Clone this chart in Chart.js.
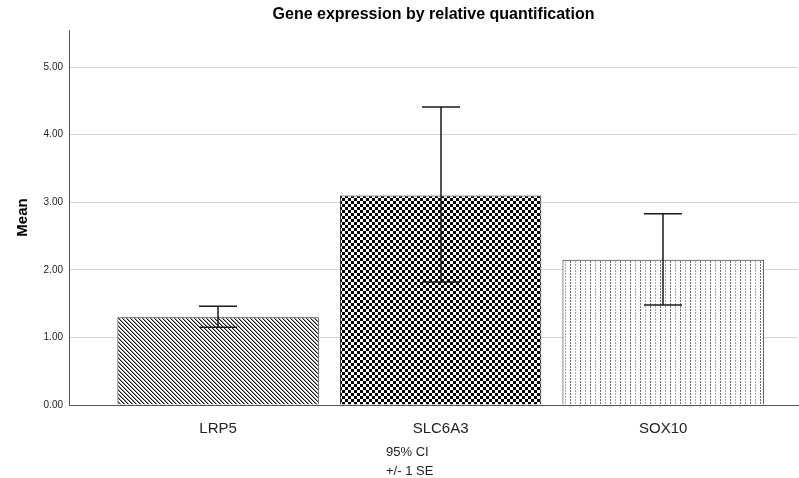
<!DOCTYPE html>
<html>
<head>
<meta charset="utf-8">
<script src="https://cdn.jsdelivr.net/npm/chart.js@4"></script>
<style>
  html, body { margin: 0; padding: 0; background: #fff; }
  #wrap { width: 799px; height: 478px; }
</style>
</head>
<body>
<div id="wrap"><canvas id="chart"></canvas></div>
<script>
const genes = ['LRP5', 'SLC6A3', 'SOX10']
const means = [1.30, 3.10, 2.15]
const upper = [1.46, 4.41, 2.83]
const lower = [1.15, 1.82, 1.48]
const footnotes = ['95% CI', '+/- 1 SE']

const FONT = '"Liberation Sans", Arial, sans-serif'
const canvas = document.getElementById('chart')

// PATTERNS
const makePattern = (w, h, draw) => {
  const c = document.createElement('canvas')
  c.width = w
  c.height = h
  const ctx = c.getContext('2d')
  ctx.fillStyle = '#fff'
  ctx.fillRect(0, 0, w, h)
  draw(ctx)
  return canvas.getContext('2d').createPattern(c, 'repeat')
}

const hatch = makePattern(4, 4, (ctx) => {
  for (let i = 0; i < 4; i++) {
    ctx.fillStyle = '#111'
    ctx.fillRect(i, i, 1, 1)
    ctx.fillStyle = '#9a9a9a'
    ctx.fillRect((i + 1) % 4, i, 1, 1)
  }
})

const checker = makePattern(6, 6, (ctx) => {
  ctx.fillStyle = '#000'
  ctx.fillRect(0, 0, 3, 3)
  ctx.fillRect(3, 3, 3, 3)
})

const dots = makePattern(10, 3, (ctx) => {
  ctx.fillStyle = '#6e6e6e'
  ctx.fillRect(0, 0, 1, 2)
  ctx.fillStyle = '#a8a8a8'
  ctx.fillRect(5, 0, 1, 2)
})

// ERROR BARS
const errorBars = {
  id: 'errorBars',
  afterDatasetsDraw(chart) {
    const { ctx, scales: { x, y } } = chart
    ctx.save()
    ctx.strokeStyle = '#1a1a1a'
    ctx.lineWidth = 1.5
    genes.forEach((g, i) => {
      const px = Math.round(x.getPixelForValue(i))
      const top = y.getPixelForValue(upper[i])
      const bot = y.getPixelForValue(lower[i])
      ctx.beginPath()
      ctx.moveTo(px, top)
      ctx.lineTo(px, bot)
      ctx.moveTo(px - 19, top)
      ctx.lineTo(px + 19, top)
      ctx.moveTo(px - 19, bot)
      ctx.lineTo(px + 19, bot)
      ctx.stroke()
    })
    ctx.restore()
  }
}

// FOOTNOTES
const footnotePlugin = {
  id: 'footnotes',
  afterDraw(chart) {
    const { ctx } = chart
    ctx.save()
    ctx.fillStyle = '#222'
    ctx.font = '13px ' + FONT
    ctx.textAlign = 'left'
    ctx.textBaseline = 'middle'
    footnotes.forEach((t, i) => ctx.fillText(t, 386, 452 + i * 19))
    ctx.restore()
  }
}

new Chart(canvas, {
  type: 'bar',
  data: {
    datasets: [
      {
        data: genes.map((g, i) => ({ x: i, y: means[i] })),
        backgroundColor: [hatch, checker, dots],
        borderColor: '#222',
        borderWidth: 1,
        barPercentage: 0.905,
        categoryPercentage: 1
      }
    ]
  },
  options: {
    responsive: true,
    maintainAspectRatio: false,
    animation: false,
    layout: { padding: { left: 0, right: 1, top: 0, bottom: 0 } },
    plugins: {
      legend: { display: false },
      tooltip: { enabled: false },
      title: {
        display: true,
        text: 'Gene expression by relative quantification',
        fullSize: false,
        color: '#000',
        font: { family: FONT, size: 16, weight: 'bold' },
        padding: { top: 5.4, bottom: 5.4 }
      }
    },
    scales: {
      x: {
        type: 'linear',
        offset: false,
        min: -0.67,
        max: 2.606,
        grid: { display: false, offset: false },
        border: { color: '#555' },
        ticks: {
          stepSize: 1,
          includeBounds: false,
          autoSkip: false,
          maxRotation: 0,
          callback: (value) => genes[value] ?? '',
          color: '#222',
          font: { family: FONT, size: 15 },
          padding: 7
        },
        afterFit: (scale) => { scale.height = 73 }
      },
      y: {
        min: 0,
        max: 5.55,
        grid: { color: '#d6d6d6', drawTicks: false },
        border: { color: '#555' },
        ticks: {
          stepSize: 1,
          includeBounds: false,
          callback: (value) => value.toFixed(2),
          color: '#222',
          font: { family: FONT, size: 10 },
          padding: 6
        },
        title: {
          display: true,
          text: 'Mean',
          color: '#000',
          font: { family: FONT, size: 15, weight: 'bold' },
          padding: { top: 14, bottom: 0 }
        },
        afterFit: (scale) => { scale.width = 69 }
      }
    }
  },
  plugins: [errorBars, footnotePlugin]
})
</script>
</body>
</html>
